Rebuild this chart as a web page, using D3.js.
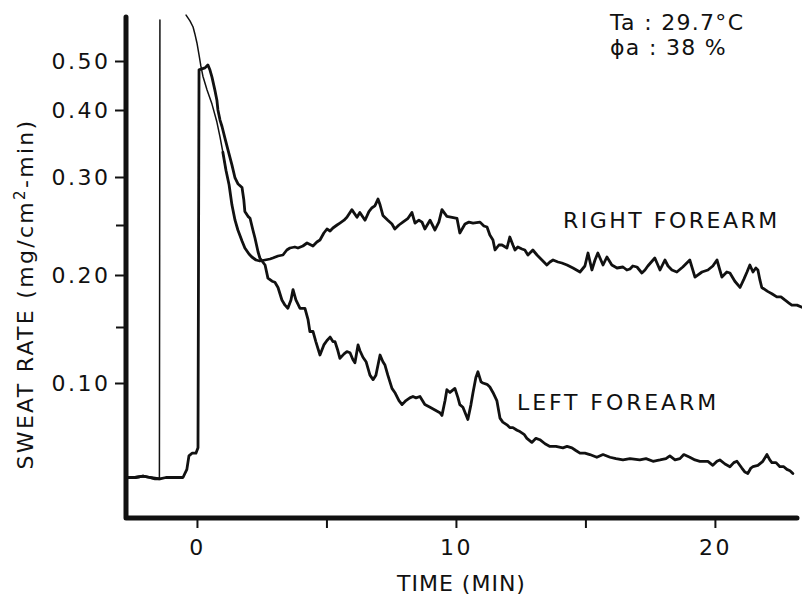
<!DOCTYPE html>
<html>
<head>
  <meta charset="utf-8">
  <title>Sweat rate, right and left forearm</title>
  <style>
    body { margin: 0; background: #fff; }
    svg text { font-family: "DejaVu Sans", sans-serif; fill: #111; }
  </style>
</head>
<body>
  <svg id="chart"></svg>

  <script src="https://d3js.org/d3.v7.min.js"></script>
  <script>
    // axis ticks
    const timeTicks = [0, 5, 10, 15, 20];
    const timeLabels = [0, 10, 20];
    const rateTicks = [0.10, 0.20, 0.30, 0.40, 0.50];
    const rateMinorTicks = [0.15, 0.25];
    // the recorder paper is not linear, these are its graduations
    const rateStops = [0, 0.10, 0.15, 0.20, 0.25, 0.30, 0.40, 0.50, 0.60];

    // [time (min), sweat rate (mg/cm2-min)] ; null = pen off the paper
    const rightForearm = [
      [-2.66,0.030],[-2.39,0.030],[-2.08,0.031],[-1.81,0.030],[-1.62,0.029],[-1.45,0.029],[-1.43,0.600],[-1.0,null],
      [-0.42,0.612],[-0.27,0.598],[-0.15,0.583],[-0.08,0.566],[0.00,0.544],[0.08,0.515],[0.15,0.490],[0.23,0.469],
      [0.39,0.441],[0.58,0.412],[0.77,0.382],[0.89,0.360],[1.00,0.337],[1.12,0.310],[1.24,0.292],[1.35,0.271],
      [1.47,0.255],[1.58,0.245],[1.74,0.234],[1.85,0.227],[2.01,0.221],[2.12,0.218],[2.28,0.215],[2.43,0.214],
      [2.63,0.215],[2.82,0.216],[2.93,0.217],[3.13,0.219],[3.32,0.220],[3.47,0.225],[3.59,0.227],[3.78,0.228],
      [3.90,0.227],[4.09,0.229],[4.25,0.232],[4.48,0.229],[4.63,0.233],[4.75,0.235],[4.90,0.242],[5.02,0.246],
      [5.14,0.244],[5.25,0.247],[5.41,0.250],[5.52,0.252],[5.68,0.255],[5.79,0.258],[5.98,0.266],[6.18,0.258],
      [6.29,0.263],[6.49,0.255],[6.64,0.264],[6.76,0.268],[6.87,0.270],[6.99,0.277],[7.07,0.271],[7.18,0.260],
      [7.37,0.255],[7.53,0.251],[7.64,0.246],[7.80,0.250],[7.95,0.253],[8.15,0.257],[8.30,0.263],[8.42,0.252],
      [8.57,0.255],[8.69,0.253],[8.80,0.246],[9.00,0.255],[9.19,0.245],[9.34,0.253],[9.46,0.266],[9.65,0.259],
      [9.85,0.258],[10.04,0.257],[10.15,0.242],[10.35,0.251],[10.50,0.253],[10.66,0.252],[10.93,0.253],[11.08,0.249],
      [11.20,0.248],[11.31,0.240],[11.43,0.235],[11.51,0.225],[11.66,0.230],[11.78,0.230],[11.97,0.227],[12.08,0.238],
      [12.20,0.230],[12.28,0.225],[12.39,0.228],[12.55,0.226],[12.66,0.225],[12.78,0.220],[12.97,0.225],[13.13,0.220],
      [13.32,0.215],[13.51,0.210],[13.63,0.213],[13.75,0.215],[13.94,0.213],[14.09,0.212],[14.29,0.210],[14.52,0.207],
      [14.79,0.203],[14.98,0.209],[15.10,0.222],[15.25,0.205],[15.37,0.215],[15.48,0.222],[15.68,0.210],[15.83,0.218],
      [16.02,0.210],[16.22,0.207],[16.45,0.208],[16.60,0.205],[16.72,0.206],[16.83,0.209],[16.99,0.208],[17.18,0.202],
      [17.30,0.205],[17.41,0.209],[17.68,0.217],[17.88,0.205],[18.07,0.215],[18.19,0.209],[18.34,0.205],[18.53,0.203],
      [18.76,0.208],[19.03,0.215],[19.23,0.198],[19.50,0.203],[19.73,0.205],[19.92,0.209],[20.08,0.215],[20.27,0.198],
      [20.46,0.203],[20.58,0.202],[20.77,0.194],[20.97,0.188],[21.12,0.196],[21.24,0.203],[21.35,0.210],[21.47,0.203],
      [21.58,0.207],[21.66,0.205],[21.74,0.195],[21.81,0.188],[22.05,0.184],[22.20,0.182],[22.39,0.179],[22.55,0.179],
      [22.70,0.176],[22.86,0.173],[22.97,0.171],[23.17,0.171],[23.36,0.169]
    ];

    const leftForearm = [
      [-2.66,0.030],[-2.39,0.030],[-2.08,0.031],[-1.81,0.030],[-1.43,0.029],[-1.20,0.030],[-0.97,0.030],[-0.73,0.030],
      [-0.54,0.030],[-0.39,0.036],[-0.31,0.046],[-0.19,0.048],[-0.04,0.048],[0.04,0.052],[0.08,0.482],[0.19,0.484],
      [0.31,0.486],[0.42,0.492],[0.50,0.482],[0.58,0.467],[0.69,0.441],[0.77,0.420],[0.81,0.400],[0.89,0.385],
      [0.97,0.375],[1.08,0.358],[1.20,0.340],[1.35,0.318],[1.47,0.299],[1.58,0.293],[1.74,0.289],[1.81,0.276],
      [1.85,0.264],[1.97,0.259],[2.05,0.257],[2.16,0.245],[2.24,0.237],[2.36,0.223],[2.43,0.217],[2.51,0.214],
      [2.63,0.210],[2.74,0.197],[2.90,0.194],[3.01,0.193],[3.13,0.188],[3.28,0.176],[3.40,0.171],[3.51,0.168],
      [3.63,0.176],[3.71,0.186],[3.82,0.176],[3.98,0.168],[4.17,0.168],[4.29,0.157],[4.36,0.146],[4.48,0.146],
      [4.59,0.137],[4.75,0.125],[4.90,0.134],[5.02,0.138],[5.14,0.141],[5.25,0.137],[5.33,0.137],[5.44,0.129],
      [5.52,0.122],[5.68,0.126],[5.79,0.128],[5.91,0.127],[6.02,0.121],[6.10,0.118],[6.22,0.134],[6.29,0.129],
      [6.41,0.123],[6.53,0.119],[6.68,0.107],[6.80,0.103],[6.91,0.107],[7.07,0.125],[7.18,0.119],[7.26,0.116],
      [7.37,0.107],[7.53,0.096],[7.64,0.093],[7.80,0.087],[7.92,0.084],[8.07,0.087],[8.22,0.089],[8.34,0.090],
      [8.46,0.089],[8.61,0.090],[8.80,0.084],[9.00,0.082],[9.19,0.080],[9.38,0.078],[9.46,0.076],[9.58,0.087],
      [9.65,0.095],[9.77,0.093],[9.96,0.096],[10.08,0.089],[10.15,0.084],[10.27,0.082],[10.46,0.073],[10.58,0.084],
      [10.66,0.093],[10.77,0.105],[10.85,0.110],[10.97,0.101],[11.04,0.100],[11.20,0.099],[11.31,0.097],[11.43,0.093],
      [11.58,0.087],[11.70,0.074],[11.81,0.071],[11.97,0.069],[12.08,0.067],[12.20,0.067],[12.36,0.065],[12.47,0.064],
      [12.63,0.062],[12.74,0.059],[12.93,0.056],[13.09,0.059],[13.24,0.058],[13.44,0.055],[13.63,0.053],[13.86,0.053],
      [14.13,0.052],[14.29,0.053],[14.48,0.052],[14.63,0.050],[14.79,0.048],[14.98,0.048],[15.17,0.047],[15.44,0.045],
      [15.68,0.047],[15.95,0.045],[16.18,0.044],[16.45,0.043],[16.72,0.044],[17.10,0.043],[17.34,0.044],[17.61,0.042],
      [17.88,0.043],[18.11,0.044],[18.26,0.046],[18.46,0.043],[18.65,0.044],[18.80,0.047],[19.03,0.045],[19.23,0.043],
      [19.42,0.042],[19.54,0.042],[19.73,0.042],[19.92,0.039],[20.08,0.042],[20.19,0.043],[20.39,0.040],[20.58,0.038],
      [20.73,0.041],[20.85,0.042],[21.04,0.037],[21.16,0.034],[21.27,0.033],[21.39,0.037],[21.47,0.038],[21.66,0.039],
      [21.85,0.042],[22.01,0.047],[22.12,0.043],[22.20,0.041],[22.36,0.041],[22.51,0.038],[22.66,0.038],[22.78,0.036],
      [22.90,0.035],[23.01,0.033]
    ];

    // layout
    const width = 802;
    const height = 601;
    const left = 126, right = 797, bottom = 518;
    const stopY = [518, 383, 327, 275, 225, 177, 110, 61, 20];

    const svg = d3.select("#chart")
      .attr("width", width)
      .attr("height", height);

    const x = d3.scaleLinear().domain([-2.74, 23.17]).range([left, right]);
    const y = d3.scaleLinear().domain(rateStops).range(stopY);

    // y ticks
    svg.append("g")
      .attr("transform", `translate(${left},0)`)
      .call(d3.axisLeft(y).tickValues(rateTicks).tickSize(11).tickPadding(4.5).tickFormat(d3.format(".2f")));
    svg.append("g")
      .attr("transform", `translate(${left},0)`)
      .call(d3.axisLeft(y).tickValues(rateMinorTicks).tickSize(10).tickFormat(""));

    // x ticks
    svg.append("g")
      .attr("transform", `translate(0,${bottom})`)
      .call(d3.axisBottom(x).tickValues(timeTicks).tickSize(10).tickPadding(11.4)
        .tickFormat(d => timeLabels.includes(d) ? d : ""));

    svg.selectAll(".domain").remove();
    svg.selectAll(".tick line").attr("stroke", "#111").attr("stroke-width", 2);
    svg.selectAll(".tick text")
      .style("font-size", "22px")
      .style("letter-spacing", "2.5px")
      .style("font-family", "DejaVu Sans, sans-serif")
      .attr("fill", "#111");

    // heavy axis frame
    svg.append("path")
      .attr("d", `M${left},${y(0.6) - 3}L${left},${y(0)}L${right},${y(0)}`)
      .attr("fill", "none")
      .attr("stroke", "#111")
      .attr("stroke-width", 5)
      .attr("stroke-linecap", "round")
      .attr("stroke-linejoin", "round");

    // traces
    const line = d3.line()
      .defined(d => d[1] != null)
      .x(d => x(d[0]))
      .y(d => y(d[1]));

    function trace(data, w) {
      svg.append("path")
        .datum(data)
        .attr("d", line)
        .attr("fill", "none")
        .attr("stroke", "#111")
        .attr("stroke-width", w)
        .attr("stroke-linejoin", "round")
        .attr("stroke-linecap", "round");
    }

    trace(leftForearm, 2.8);
    // the pen moved fast here, so the right forearm trace is thin
    trace(rightForearm.filter(d => d[0] <= -1.45), 2.8);
    trace(rightForearm.filter(d => d[0] >= -1.45 && d[0] <= 1.12), 1.5);
    trace(rightForearm.filter(d => d[0] >= 1.0), 2.8);

    // labels
    svg.append("text")
      .attr("x", 563).attr("y", 228)
      .style("font-size", "22px").style("letter-spacing", "2.5px")
      .text("RIGHT FOREARM");

    svg.append("text")
      .attr("x", 517).attr("y", 410)
      .style("font-size", "22px").style("letter-spacing", "2.9px")
      .text("LEFT FOREARM");

    svg.append("text")
      .attr("x", 610).attr("y", 30)
      .style("font-size", "22px").style("letter-spacing", "1.3px")
      .text("Ta : 29.7°C");

    svg.append("text")
      .attr("x", 610).attr("y", 55)
      .style("font-size", "22px").style("letter-spacing", "1.3px")
      .text("ϕa : 38 %");

    svg.append("text")
      .attr("x", (left + right) / 2).attr("y", 591)
      .attr("text-anchor", "middle")
      .style("font-size", "22px").style("letter-spacing", "1px")
      .text("TIME (MIN)");

    const yTitle = svg.append("text")
      .attr("transform", "translate(33,294) rotate(-90)")
      .attr("text-anchor", "middle")
      .style("font-size", "22px").style("letter-spacing", "2.3px");
    yTitle.append("tspan").text("SWEAT RATE (mg/cm");
    yTitle.append("tspan").attr("dy", -8).style("font-size", "15px").text("2");
    yTitle.append("tspan").attr("dy", 8).text("-min)");
  </script>
</body>
</html>
